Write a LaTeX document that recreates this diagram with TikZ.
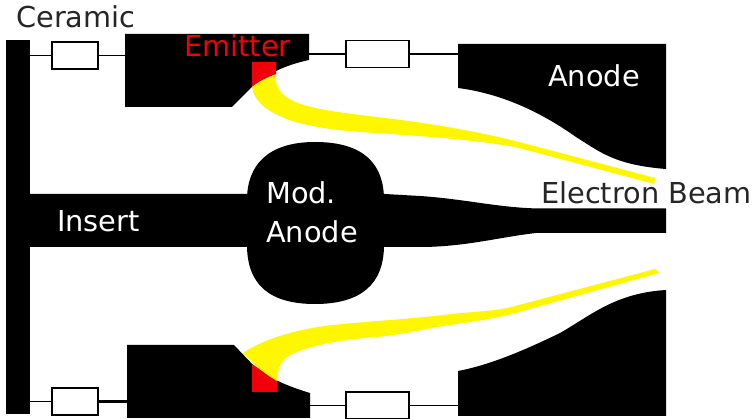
\documentclass[tikz,border=0pt]{standalone}
\usepackage{fontspec}
\setmainfont{DejaVu Sans}
\tikzset{
  solidpart/.style={fill=black,draw=none},
  resistor/.style={draw=black,line width=1.5pt,fill=white,inner sep=0pt,minimum width=#1,minimum height=27pt},
  wire/.style={draw=black,line width=1.5pt},
  label/.style={font=\fontsize{28.8pt}{30pt}\selectfont,inner sep=0pt,anchor=base west},
}
\definecolor{beam}{RGB}{255,247,0}
\definecolor{emit}{RGB}{240,0,10}
\begin{document}
\begin{tikzpicture}[x=1pt,y=-1pt]
\useasboundingbox (0,0) rectangle (753,419);
\fill[white] (0,0) rectangle (753,419);
% ceramic
\fill[solidpart] (6,40) rectangle (30,414);
\coordinate (ct) at (30,55.5);
\coordinate (cb) at (30,401.5);
% insert + mod anode
\fill[solidpart] (30,194) -- (385,194) -- (420,196) .. controls (465,199) and (500,208) .. (540,208.5) -- (666,208.5) -- (666,233) -- (536,233)
 .. controls (500,237) and (465,247) .. (420,247) -- (30,247) -- cycle;
\fill[solidpart] (315,142) .. controls (365,142) and (384,165) .. (384,200) -- (384,245)
 .. controls (384,285) and (360,304) .. (315,304) .. controls (270,304) and (247,285) .. (247,245)
 -- (247,200) .. controls (247,165) and (268,142) .. (315,142) -- cycle;
% top emitter
\fill[solidpart] (125,34) -- (309,34) -- (309,60) .. controls (285,65) and (265,75) .. (253,86) -- (232,107) -- (125,107) -- cycle;
\fill[emit] (252,62) -- (276,62) -- (276,74) .. controls (266,78) and (258,82) .. (252,87) -- cycle;
\fill[beam] (275,75) .. controls (276,88) and (280,95) .. (295,102) .. controls (315,110) and (345,113) .. (376,117)
 .. controls (430,123) and (480,132) .. (519,142) -- (655,178) -- (654,184) -- (519,148)
 .. controls (480,140) and (420,136) .. (376,133) .. controls (340,131) and (318,128) .. (295,122)
 .. controls (268,113) and (254,102) .. (252,87) .. controls (258,82) and (266,78) .. (275,75) -- cycle;
% bottom emitter
\fill[solidpart] (127,345) -- (234,345) -- (255,367) .. controls (270,379) and (290,387) .. (310,393) -- (310,418) -- (127,418) -- cycle;
\fill[emit] (252,364) -- (277,381) -- (277,392) -- (252,392) -- cycle;
\fill[beam] (243,353) .. controls (262,340) and (295,329) .. (333,325) .. controls (360,322) and (410,319) .. (443,315)
 .. controls (475,311) and (495,312) .. (519,305) -- (655,269) -- (659,273) -- (519,312)
 .. controls (495,319) and (470,322) .. (443,326) .. controls (420,330) and (400,335) .. (376,337)
 .. controls (340,340) and (310,345) .. (290,355) .. controls (280,361) and (278,368) .. (277,381)
 .. controls (265,374) and (255,366) .. (243,353) -- cycle;
% anodes
\fill[solidpart] (458,44) -- (666,44) -- (666,169) .. controls (615,165) and (600,152) .. (576,137) .. controls (545,115) and (505,94) .. (458,88) -- cycle;
\fill[solidpart] (458,371) .. controls (490,365) and (525,350) .. (560,333) .. controls (590,316) and (615,293) .. (666,290) -- (666,416) -- (458,416) -- cycle;
% named block ends
\coordinate (et) at (125,55.5);
\coordinate (eb) at (127,401.5);
\coordinate (ets) at (309,54);
\coordinate (ebs) at (310,405.5);
\coordinate (at) at (458,54);
\coordinate (ab) at (458,405.5);
% resistors
\node[resistor=46pt] (r1) at (75,55.5) {};
\node[resistor=63pt] (r2) at (377.5,54) {};
\node[resistor=46pt] (r3) at (75,401.5) {};
\node[resistor=63pt] (r4) at (377.5,405.5) {};
\draw[wire] (ct) -- (r1.west);
\draw[wire] (r1.east) -- (et);
\draw[wire] (ets) -- (r2.west);
\draw[wire] (r2.east) -- (at);
\draw[wire] (cb) -- (r3.west);
\draw[wire,line width=2.5pt] (r3.east) -- (eb);
\draw[wire] (ebs) -- (r4.west);
\draw[wire] (r4.east) -- (ab);
% labels
\node[label,text=black!85] (t1) at (16,28) {Ceramic};
\node[label,text=emit] (t2) at (184,57) {Emitter};
\node[label,text=white] (t3) at (548,87) {Anode};
\node[label,text=black!85] (t4) at (541,204) {Electron Beam};
\node[label,text=white] (t5) at (57,232) {Insert};
\node[label,text=white] (t6) at (266,204) {Mod.};
\node[label,text=white] (t7) at (266,243) {Anode};
\end{tikzpicture}
\end{document}
